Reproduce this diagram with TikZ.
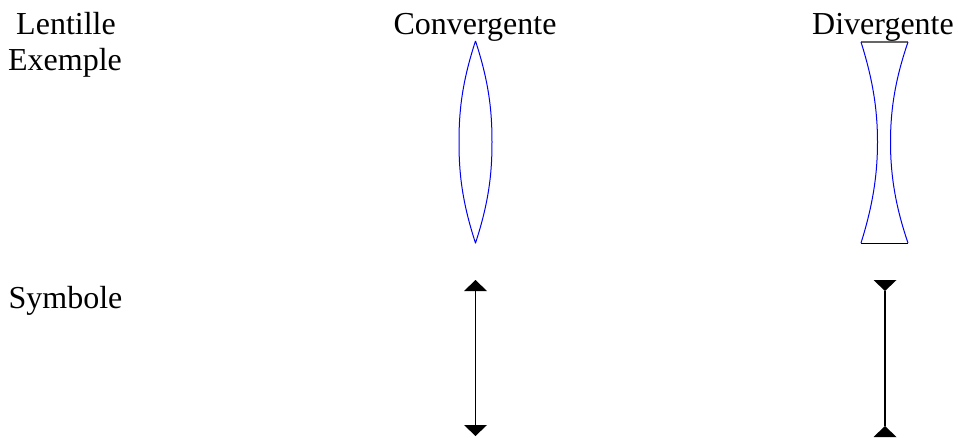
\documentclass[tikz,border=0pt]{standalone}
\usepackage{fontspec}
\setmainfont{Liberation Serif}
\tikzset{
  x=0.75pt,y=-0.75pt,
  lbl/.style={inner sep=0pt,anchor=base,font=\fontsize{24}{24}\selectfont,text=black},
  lens/.style={draw=blue!95!black,line width=0.75pt,line join=round},
  rim/.style={line width=0.75pt},
  axis/.style={draw=black,line width=0.75pt},
  axisb/.style={draw=black,line width=1.1pt},
  head/.style={fill=black,draw=none}
}
\begin{document}
\begin{tikzpicture}
\useasboundingbox (0,0) rectangle (958,437);
\node[lbl] (lentille) at (66,34) {Lentille};
\node[lbl] (exemple) at (65,70) {Exemple};
\node[lbl] (symbole) at (65.5,308) {Symbole};
\node[lbl] (conv) at (475,34) {Convergente};
\node[lbl] (div) at (883,34) {Divergente};
% convergent lens
\coordinate (ct) at (475.5,41);
\coordinate (cb) at (475.5,243);
\draw[lens] (ct) .. controls (461,85) and (459,115) .. (459,142)
  .. controls (459,169) and (461,199) .. (cb)
  .. controls (490,199) and (492,169) .. (492,142)
  .. controls (492,115) and (490,85) .. (ct);
% divergent lens
\coordinate (dtl) at (861,42);
\coordinate (dtr) at (908,42);
\coordinate (dbl) at (861,243);
\coordinate (dbr) at (908,243);
\draw[rim,draw=black!60,line width=1.1pt] (dtl) -- (dtr);
\draw[rim,draw=black] (dbl) -- (dbr);
\draw[lens] (dtl) .. controls (873,80) and (877.5,110) .. (877.5,142)
  .. controls (877.5,174) and (873,205) .. (dbl);
\draw[lens] (dtr) .. controls (895,80) and (890.5,110) .. (890.5,142)
  .. controls (890.5,174) and (895,205) .. (dbr);
% convergent symbol
\coordinate (sct) at (475.5,280);
\coordinate (scb) at (475.5,436);
\draw[axis] (sct) -- (scb);
\fill[head] (sct) -- (487,291) -- (464,291) -- cycle;
\fill[head] (scb) -- (487,425) -- (464,425) -- cycle;
% divergent symbol
\coordinate (sdt) at (885,291);
\coordinate (sdb) at (885,426);
\draw[axisb] (sdt) -- (sdb);
\fill[head] (sdt) -- (896.5,280) -- (873.5,280) -- cycle;
\fill[head] (sdb) -- (896.5,437) -- (873.5,437) -- cycle;
\end{tikzpicture}
\end{document}
